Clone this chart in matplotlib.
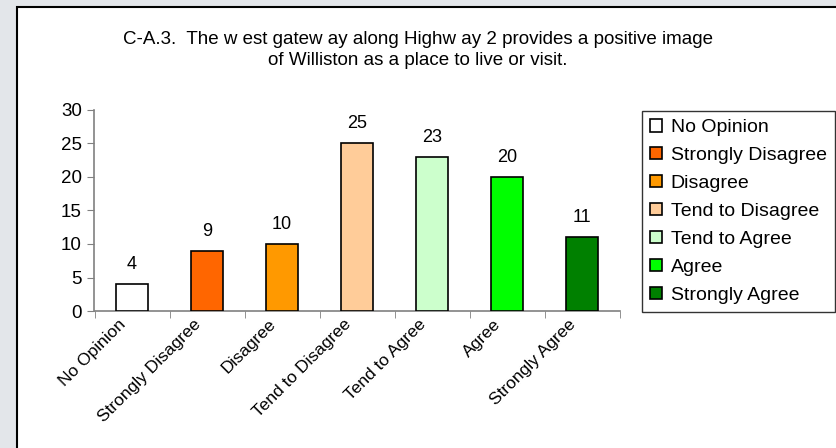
import numpy as np
import matplotlib
matplotlib.use("Agg")
import matplotlib.pyplot as plt
import matplotlib.transforms as mtransforms
from matplotlib.patches import Rectangle

categories = ["No Opinion", "Strongly Disagree", "Disagree", "Tend to Disagree",
              "Tend to Agree", "Agree", "Strongly Agree"]
counts = [4, 9, 10, 25, 23, 20, 11]
colors = ["#FFFFFF", "#FF6600", "#FF9900", "#FFCC99", "#CCFFCC", "#00FF00", "#008000"]
y_ticks = [0, 5, 10, 15, 20, 25, 30]
title = ("C-A.3.  The w est gatew ay along Highw ay 2 provides a positive image\n"
         "of Williston as a place to live or visit.")

plt.rcParams["font.family"] = ["Liberation Sans", "DejaVu Sans"]

fig = plt.figure(figsize=(8.37, 4.48), dpi=100)
fig.patch.set_facecolor("#E3E6EA")

# white panel with dark border on left/top
W, H = 837, 448
panel = Rectangle((17 / W, -0.05), 1.0, (448 - 7) / H + 0.05, transform=fig.transFigure,
                  facecolor="white", edgecolor="black", linewidth=1.5, zorder=-5)
fig.patches.append(panel)

ax = fig.add_axes([94.5 / W, (H - 311) / H, 525 / W, 201 / H])
ax.set_facecolor("none")
ax.set_zorder(2)

x = np.arange(len(categories))
bars = ax.bar(x, counts, width=0.43, color=colors, edgecolor="black", linewidth=1.2,
              label=categories, zorder=3)

for xi, v in zip(x, counts):
    ax.annotate(str(v), (xi, v), xytext=(0, 8), textcoords="offset points",
                ha="center", va="bottom", fontsize=13)

ax.set_xlim(-0.5, len(categories) - 0.5)
ax.set_ylim(0, 30)
ax.set_yticks(y_ticks)

ax.set_xticks(x)
ax.set_xticklabels(categories, rotation=45, ha="right", rotation_mode="anchor",
                   fontsize=12.5)
ax.set_xticks(np.arange(-0.5, len(categories)), minor=True)
ax.tick_params(axis="x", which="major", length=0, pad=4)
ax.tick_params(axis="x", which="minor", length=5, color="#808080", direction="out")
ax.tick_params(axis="y", length=5, color="#808080", labelsize=13.5, pad=4)

offset = mtransforms.ScaledTranslation(-14 / 100, 0, fig.dpi_scale_trans)
for lbl in ax.get_xticklabels():
    lbl.set_transform(lbl.get_transform() + offset)

for s in ["top", "right"]:
    ax.spines[s].set_visible(False)
for s in ["left", "bottom"]:
    ax.spines[s].set_color("#808080")
    ax.spines[s].set_linewidth(1.2)

fig.text(418 / W, 1 - 50 / H, title, ha="center", va="center", fontsize=13.5,
         linespacing=1.35)

leg = fig.legend(handles=bars, labels=categories, loc="upper left",
                 bbox_to_anchor=(642 / W, 1 - 111 / H), borderaxespad=0,
                 frameon=True, fancybox=False, fontsize=14, handlelength=0.6,
                 handleheight=0.6, handletextpad=0.45, labelspacing=0.56,
                 borderpad=0.42)
leg.get_frame().set_edgecolor("black")
leg.get_frame().set_linewidth(1.0)

fig.savefig("out.png", dpi=100, facecolor=fig.get_facecolor())
